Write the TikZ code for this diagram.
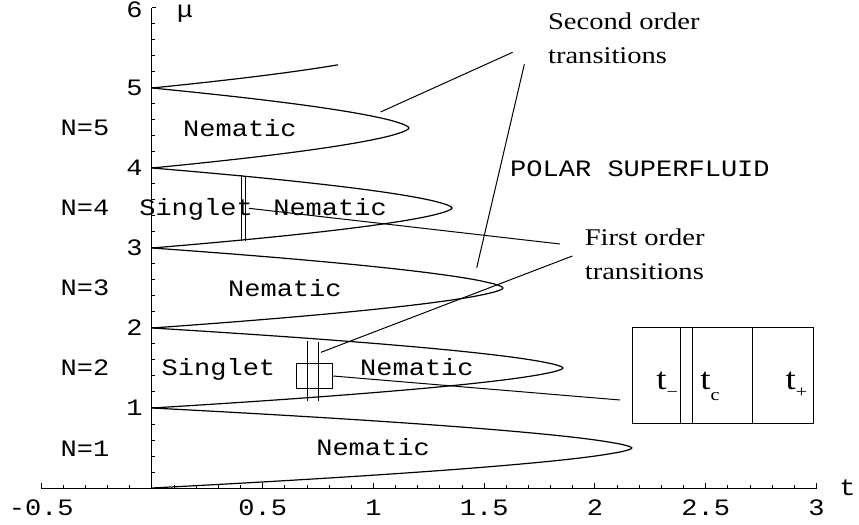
\documentclass[tikz,border=0pt]{standalone}
\usepackage{fontspec}
\setmainfont{Liberation Serif}
\newfontfamily\courfam[FakeStretch=1.15]{Liberation Mono}
\newcommand{\labfont}{\courfam\fontsize{23.5bp}{28bp}\selectfont}
\newcommand{\notefont}{\fontsize{24bp}{33.5bp}\selectfont}
\newcommand{\insetfont}{\fontsize{31bp}{36bp}\selectfont}
\newcommand{\subfont}{\fontsize{17bp}{20bp}\selectfont}
\newcommand{\wide}[1]{\scalebox{1.19}[1]{#1}}

\begin{document}
\begin{tikzpicture}[x=221.5bp, y=80bp, line width=1bp,
    lobe/.style={line width=1.2bp},
    ticklab/.style={font=\labfont, inner sep=0pt},
    phase/.style={font=\labfont, inner sep=0pt, anchor=base},
    note/.style={font=\notefont, inner sep=0pt},
    tlab/.style={font=\insetfont, inner sep=0pt, anchor=base west}]
  \useasboundingbox (-0.6862,-0.4625) rectangle (3.1919,6.1);

  % axes and ticks
  \draw (-0.5,0) -- (3,0);
  \draw (0,0) -- (0,6);
  \foreach \i in {-5,...,30}
    \draw (\i/10,0) -- ++(0pt,3bp);
  \foreach \i in {-1,...,6}
    \draw (\i/2,0) -- ++(0pt,5bp);
  \foreach \i in {1,...,30}
    \draw (0,\i/5) -- ++(2.7bp,0pt);
  \foreach \i in {1,...,6}
    \draw (0,\i) -- ++(4bp,0pt);
  \foreach \x/\s in {-0.5/-0.5,0.5/0.5,1/1,1.5/1.5,2/2,2.5/2.5,3/3}
    \node[ticklab, anchor=base] (tx\s) at (\x,-0.34) {\s};
  \foreach \y in {1,...,5}
    \node[ticklab, anchor=east] (my\y) at (-0.04,\y) {\y};
  \node[ticklab, anchor=north east] (my6) at (-0.04,6.085) {6};
  \node[ticklab, anchor=base] (taxis) at (3.14,-0.0875) {t};
  \node[ticklab, anchor=base] (muaxis) at (0.149,5.875) {μ};

  % Mott lobes
  \foreach \n/\T in {1/2.167,2/1.856,3/1.585,4/1.355,5/1.16}
    \draw[lobe] plot[domain=-1:1, samples=100, variable=\u]
      ({\T*(1-abs(\u)^1.6)}, {\n-0.5+0.5*(\u)});
  \draw[lobe] plot[domain=-1:-0.42, samples=40, variable=\u]
    ({1.12*(1-abs(\u)^1.6)}, {5.5+0.5*(\u)});

  % first order lines
  \draw (0.404,3.09) -- (0.404,3.91);
  \draw (0.422,3.09) -- (0.422,3.89);
  \draw (0.703,1.09) -- (0.703,1.84);
  \draw (0.753,1.09) -- (0.753,1.82);

  % phase labels
  \foreach \n in {1,...,5}
    \node[phase] (N\n) at (-0.3025,\n-0.6) {N=\n};
  \node[phase] (nem5) at (0.397,4.39) {Nematic};
  \node[phase] (sing4) at (0.199,3.41) {Singlet};
  \node[phase] (nem4) at (0.804,3.41) {Nematic};
  \node[phase] (nem3) at (0.600,2.39) {Nematic};
  \node[phase] (sing2) at (0.300,1.41) {Singlet};
  \node[phase] (nem2) at (1.196,1.41) {Nematic};
  \node[phase] (nem1) at (0.998,0.41) {Nematic};
  \node[phase] (polar) at (2.203,3.89) {POLAR SUPERFLUID};

  \node[note, anchor=north west, align=left] (second) at (1.786,5.9425)
    {\wide{Second order}\\\wide{transitions}};
  \node[note, anchor=north west, align=left] (first) at (1.952,3.242)
    {\wide{First order}\\\wide{transitions}};

  \coordinate (s1) at (1.032,4.70);
  \coordinate (s1e) at (1.628,5.446);
  \coordinate (s2) at (1.466,2.754);
  \coordinate (s2e) at (1.681,5.296);
  \draw (s1) -- (s1e);
  \draw (s2) -- (s2e);
  \coordinate (f1) at (0.438,3.496);
  \coordinate (f1e) at (1.842,3.05);
  \coordinate (f2) at (0.763,1.696);
  \coordinate (f2e) at (1.898,2.90);
  \draw (f1) -- (f1e);
  \draw (f2) -- (f2e);

  % zoomed region
  \node[draw, line width=0.8bp, minimum width=36bp, minimum height=24.6bp,
    inner sep=0pt] (zoombox) at (0.7335,1.40) {};
  \coordinate (zoomend) at (2.113,1.1);
  \draw (zoombox.east) -- (zoomend);

  \node[draw, line width=0.8bp, minimum width=180.4bp, minimum height=95.7bp,
    inner sep=0pt, anchor=south west] (inset) at (2.168,0.8) {};
  \draw[line width=0.8bp] (2.386,0.8) -- (2.386,1.996);
  \draw[line width=0.8bp] (2.439,0.8) -- (2.439,1.996);
  \draw[line width=0.8bp] (2.712,0.8) -- (2.712,1.996);
  \node[tlab] (tminus) at (2.275,1.225)
    {\wide{t\raisebox{-8bp}{\subfont −}}};
  \node[tlab] (tcrit) at (2.474,1.225)
    {\wide{t\raisebox{-11bp}{\subfont c}}};
  \node[tlab] (tplus) at (2.858,1.225)
    {\wide{t\raisebox{-8bp}{\subfont +}}};
\end{tikzpicture}
\end{document}
